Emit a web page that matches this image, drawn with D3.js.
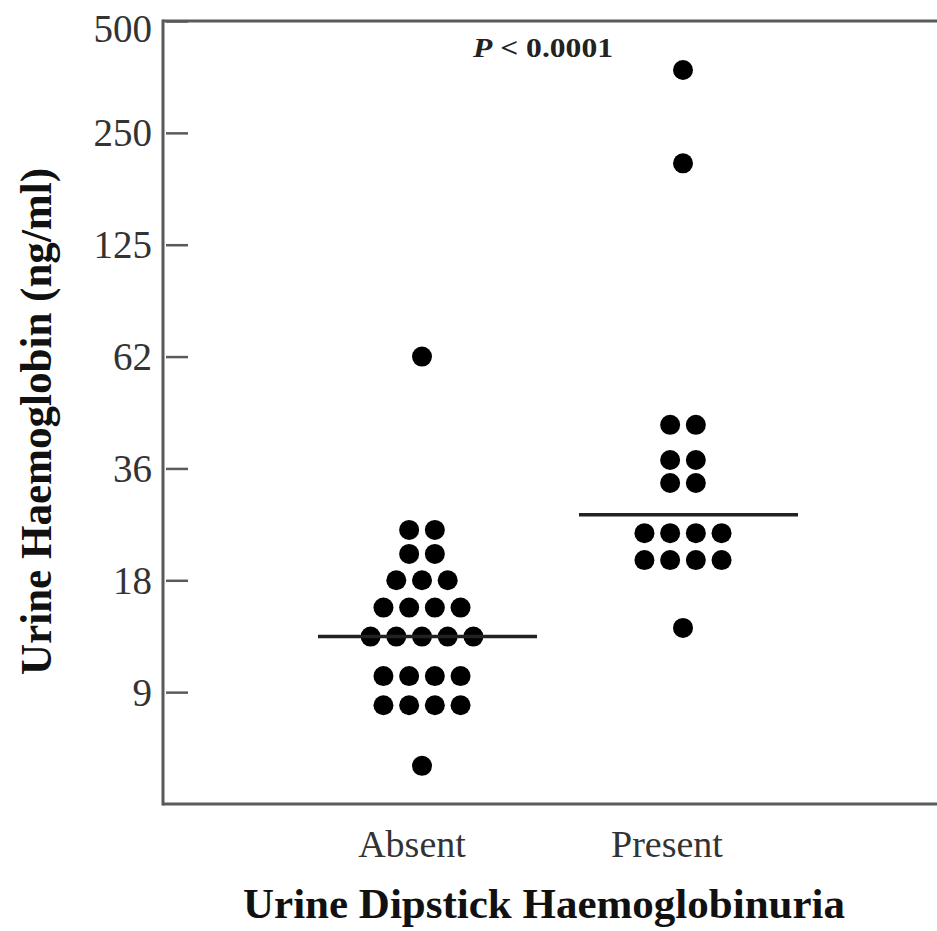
<!DOCTYPE html>
<html>
<head>
<meta charset="utf-8">
<script src="https://cdn.jsdelivr.net/npm/d3@7"></script>
<style>
  html, body { margin: 0; padding: 0; background: #fff; }
  svg { display: block; }
</style>
</head>
<body>
<svg id="chart" width="937" height="931"></svg>
<script>
// ---- Data ----
const categories = ["Absent", "Present"];
// Urine haemoglobin (ng/ml), one entry per subject (dots in the same row share a value)
const absentValues = [62, 24.6, 24.6, 21.2, 21.2, 18, 18, 18,
  15.2, 15.2, 15.2, 15.2, 12.7, 12.7, 12.7, 12.7, 12.7,
  9.94, 9.94, 9.94, 9.94, 8.3, 8.3, 8.3, 8.3, 5.7];
const presentValues = [369, 207, 44.5, 44.5, 37.5, 37.5, 32.9, 32.9,
  24.1, 24.1, 24.1, 24.1, 20.4, 20.4, 20.4, 20.4, 13.4];
const groupLines = [12.7, 27.0];
const yTickValues = [9, 18, 36, 62, 125, 250, 500];
const yTickLabels = ["9", "18", "36", "62", "125", "250", "500"];
const yTitle = "Urine Haemoglobin (ng/ml)";
const xTitle = "Urine Dipstick Haemoglobinuria";
const pLabel = "< 0.0001";

// ---- Layout ----
const svg = d3.select("#chart");
const plotLeft = 163, plotTop = 21, plotBottom = 804, plotRight = 937;
const serif = "'Liberation Serif', 'Times New Roman', Times, serif";

// Axis ticks are equally spaced (log-like) with printed labels; one extra step below the 9 tick
const yDomain = [4.5].concat(yTickValues);
const yStep = (plotBottom - plotTop) / (yDomain.length - 1);
const y = d3.scaleLog()
  .domain(yDomain)
  .range(yDomain.map((d, i) => plotBottom - i * yStep));

const x = d3.scalePoint().domain(categories).range([422, 683]);

// ---- Frame ----
const frameColor = "#5a5a5a";
svg.append("line").attr("x1", plotLeft).attr("x2", plotRight).attr("y1", plotTop).attr("y2", plotTop)
  .attr("stroke", frameColor).attr("stroke-width", 3);
svg.append("line").attr("x1", plotLeft).attr("x2", plotRight).attr("y1", plotBottom).attr("y2", plotBottom)
  .attr("stroke", frameColor).attr("stroke-width", 3);
svg.append("line").attr("x1", plotLeft).attr("x2", plotLeft).attr("y1", plotTop - 1.5).attr("y2", plotBottom + 1.5)
  .attr("stroke", frameColor).attr("stroke-width", 3);

// ---- Y axis ----
const yAxis = d3.axisLeft(y)
  .tickValues(yTickValues)
  .tickFormat((d, i) => yTickLabels[i])
  .tickSizeInner(-25)
  .tickSizeOuter(0)
  .tickPadding(11);
const gy = svg.append("g").attr("transform", `translate(${plotLeft},0)`).call(yAxis);
gy.select(".domain").remove();
gy.selectAll(".tick line").attr("stroke", frameColor).attr("stroke-width", 2.5)
  .attr("x1", 3);
gy.selectAll(".tick text")
  .attr("font-family", serif).attr("font-size", 39).attr("fill", "#333")
  .attr("dy", (d, i) => i === yTickValues.length - 1 ? "0.52em" : "0.33em");

// ---- X category labels ----
svg.append("g").selectAll("text").data(categories).join("text")
  .attr("x", (d, i) => x(d) - 10 - i * 6)
  .attr("y", 857)
  .attr("text-anchor", "middle")
  .attr("font-family", serif).attr("font-size", 38).attr("fill", "#333")
  .text(d => d);

// ---- Titles ----
svg.append("text")
  .attr("transform", `translate(51,${(168 + 675) / 2}) rotate(-90)`)
  .attr("text-anchor", "middle")
  .attr("font-family", serif).attr("font-size", 44).attr("font-weight", "bold")
  .attr("fill", "#111")
  .attr("textLength", 507).attr("lengthAdjust", "spacingAndGlyphs")
  .text(yTitle);

svg.append("text")
  .attr("x", 544).attr("y", 918)
  .attr("text-anchor", "middle")
  .attr("font-family", serif).attr("font-size", 43).attr("font-weight", "bold")
  .attr("fill", "#111")
  .attr("textLength", 602).attr("lengthAdjust", "spacingAndGlyphs")
  .text(xTitle);

const pt = svg.append("text")
  .attr("x", 473).attr("y", 57)
  .attr("font-family", serif).attr("font-size", 28).attr("font-weight", "bold")
  .attr("fill", "#222")
  .attr("textLength", 140).attr("lengthAdjust", "spacingAndGlyphs");
pt.append("tspan").attr("font-style", "italic").text("P");
pt.append("tspan").text(" " + pLabel);

// ---- Dots (rows of equal values spread horizontally) ----
const dotStep = 25.7, r = 10;
function layout(values, cat) {
  const groups = d3.group(values, v => v);
  const out = [];
  for (const [v, arr] of groups) {
    arr.forEach((_, i) => out.push({ cat, v, off: (i - (arr.length - 1) / 2) * dotStep }));
  }
  return out;
}
const dots = layout(absentValues, "Absent").concat(layout(presentValues, "Present"));
svg.append("g").selectAll("circle").data(dots).join("circle")
  .attr("cx", d => x(d.cat) + d.off)
  .attr("cy", d => y(d.v))
  .attr("r", r)
  .attr("fill", "#000");

// ---- Group lines ----
svg.append("g").selectAll("line").data(categories).join("line")
  .attr("x1", d => x(d) - 104)
  .attr("x2", d => x(d) + 115)
  .attr("y1", (d, i) => y(groupLines[i]))
  .attr("y2", (d, i) => y(groupLines[i]))
  .attr("stroke", "#222").attr("stroke-width", 3.5);
</script>
</body>
</html>
